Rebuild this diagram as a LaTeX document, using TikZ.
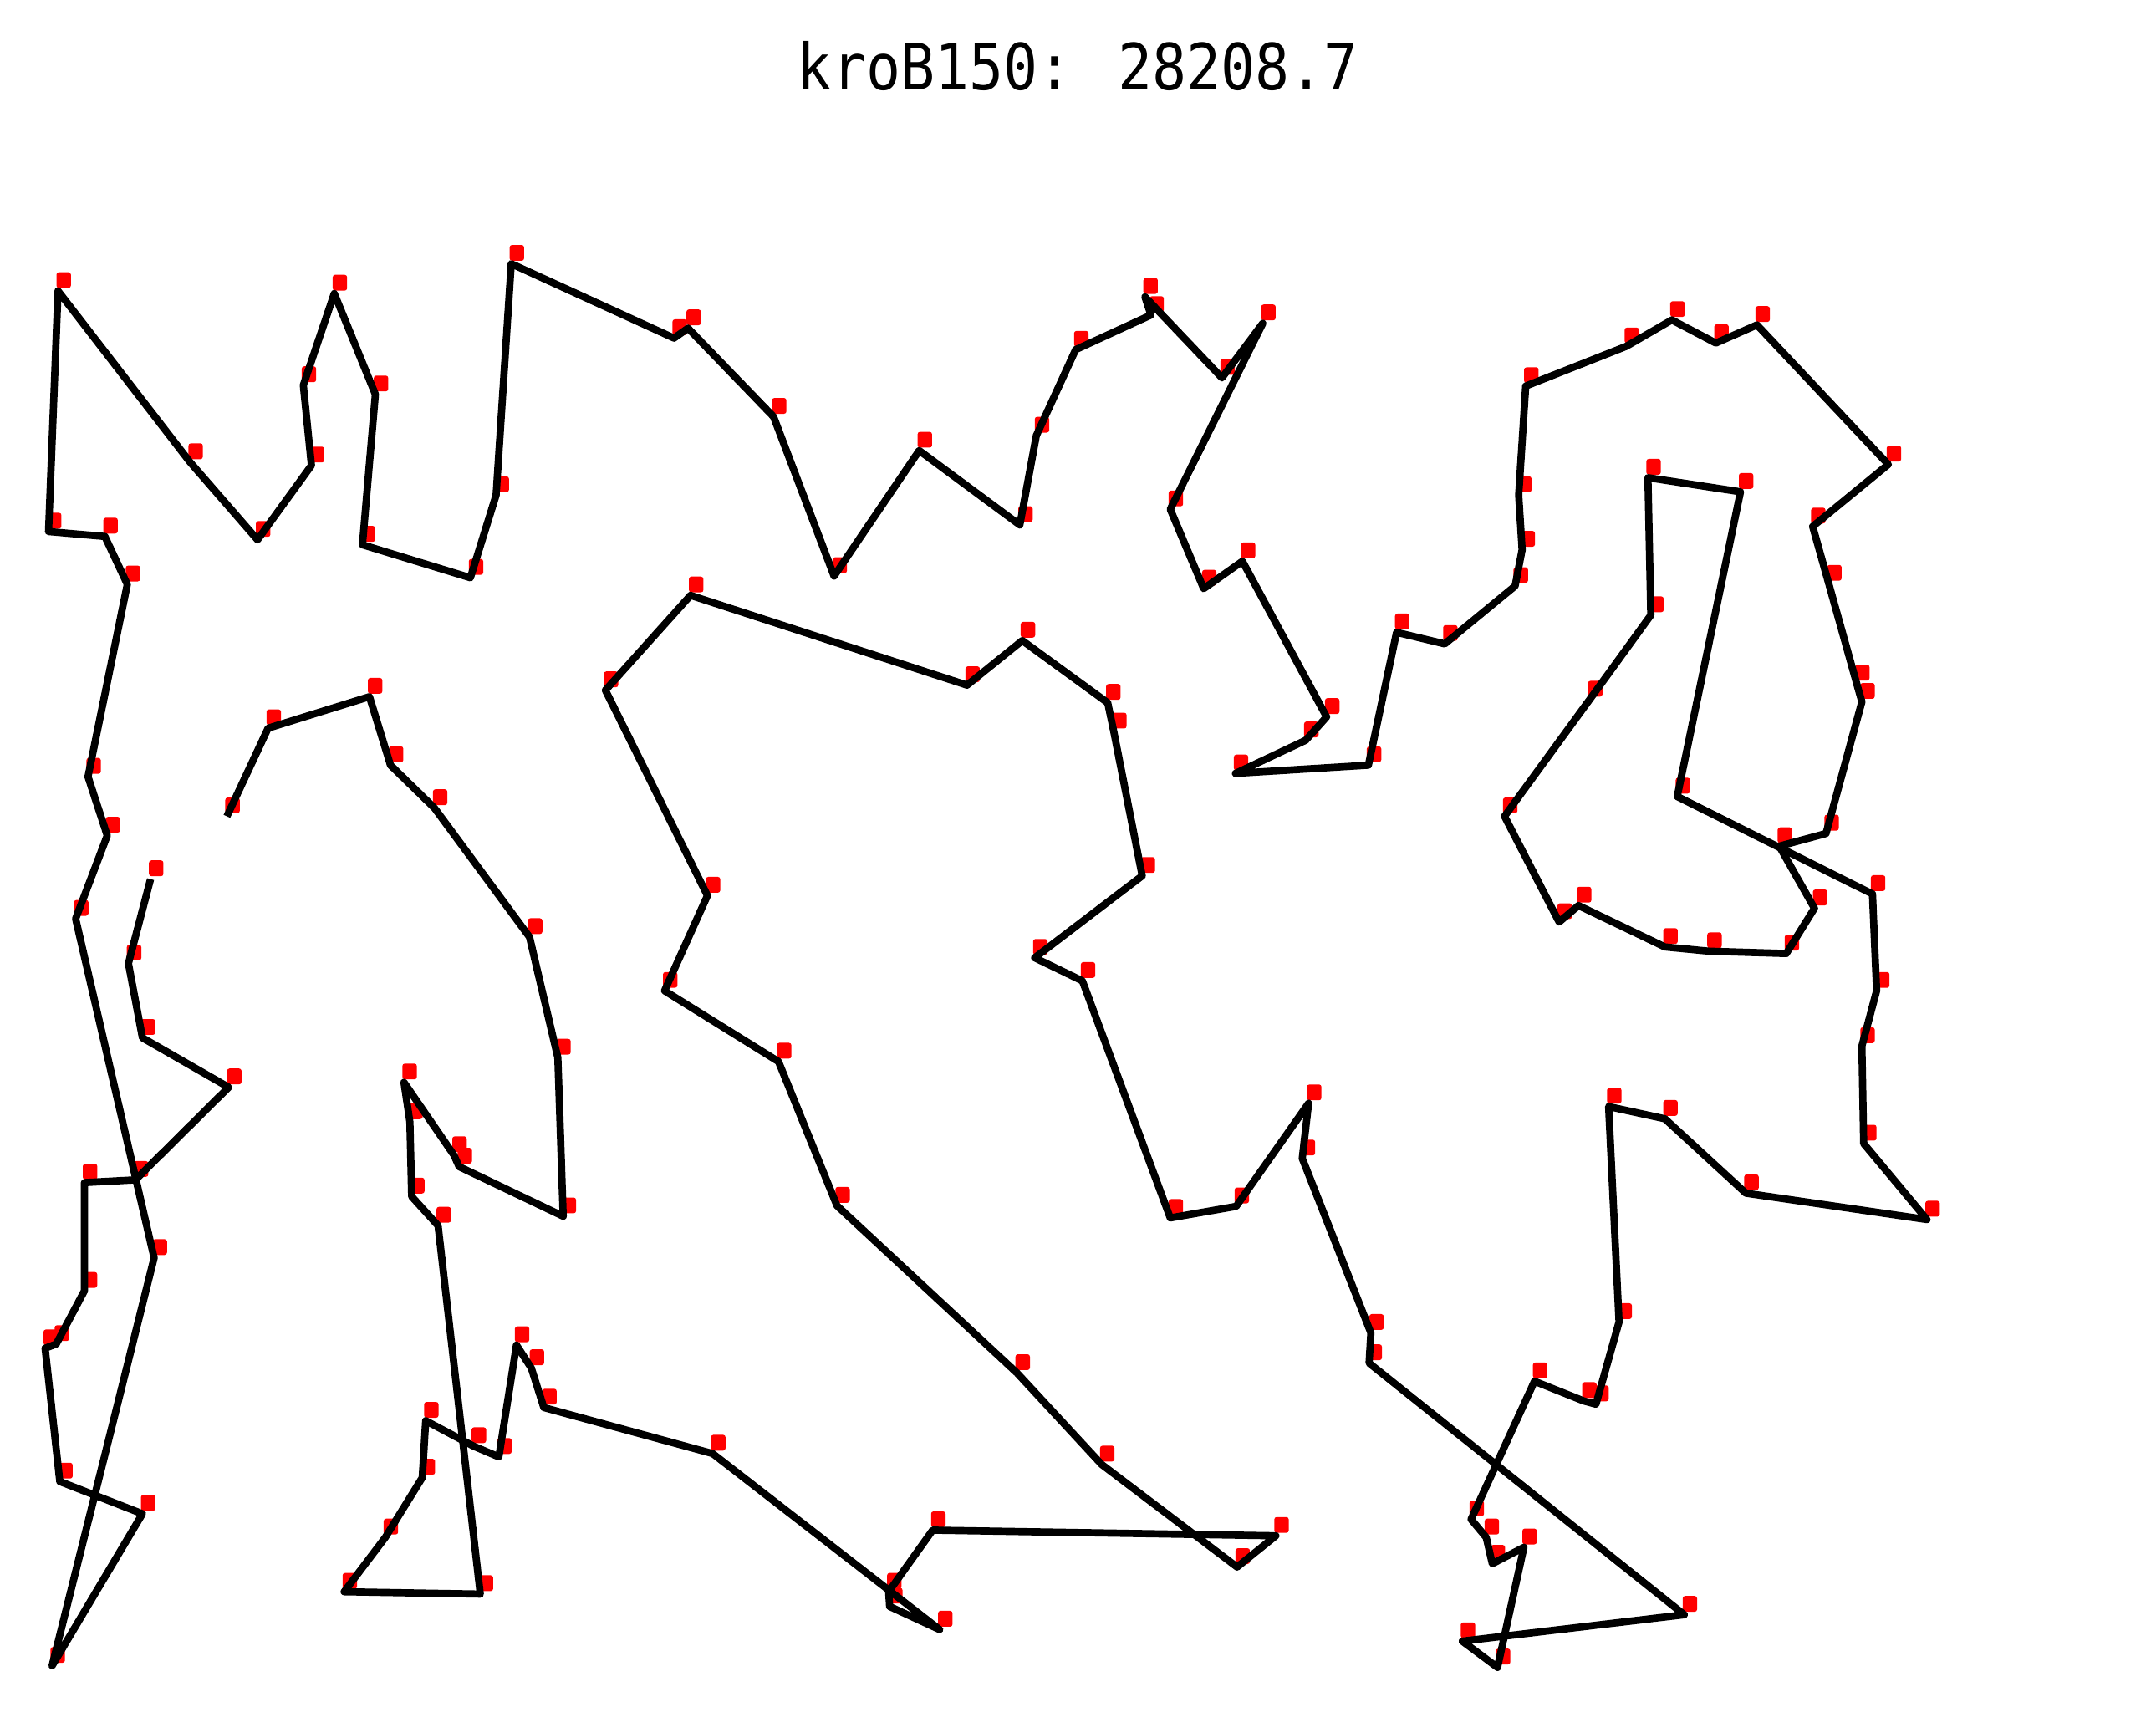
\documentclass[tikz,border=0pt]{standalone}
\usepackage{fontspec}
\newfontfamily\titlefont{DejaVu Sans Mono}
\definecolor{TourRed}{RGB}{255,0,0}

\begin{document}
\begin{tikzpicture}[x=0.01cm, y=-0.01cm,
    tour/.style={line width=1.5pt, line join=round},
    city/.style={rectangle, fill=TourRed, inner sep=0pt,
      minimum width=0.105cm, minimum height=0.115cm, rounded corners=0.5pt}]
  \useasboundingbox (0,0) rectangle (1568,1245);
  \node[font=\titlefont\fontsize{11.8}{14}\selectfont, yscale=1.12] (title) at (784,48) {kroB150: 28208.7};

  % cities, in tour order
  \foreach \n/\x/\y in {1/109.5/639.4, 2/93.4/700.7, 3/103.6/754.8, 4/166.3/790.8,
      5/98.5/858.1, 6/61.4/860.1, 7/61.4/938.8, 8/40.9/977.5, 9/32.8/980.6,
      10/43.5/1077.5, 11/103.6/1101.0, 12/37.9/1211.5, 13/112.1/914.9,
      14/55.0/668.2, 15/78.0/607.7, 16/64.0/564.9, 17/92.6/425.0, 18/76.3/390.2,
      19/35.3/386.6, 20/42.2/211.6, 21/138.2/336.1, 22/187.3/392.6,
      23/226.5/338.5, 24/220.6/280.1, 25/243.1/213.5, 26/273.0/286.8,
      27/263.6/396.2, 28/342.1/420.2, 29/360.8/360.1, 30/371.8/191.8,
      31/490.2/245.9, 32/500.4/238.7, 33/562.6/303.1, 34/606.6/419.0,
      35/668.5/327.7, 36/741.7/381.8, 37/753.7/316.8, 38/782.3/254.3,
      39/837.1/229.1, 40/832.7/215.9, 41/888.7/274.8, 42/918.4/235.1,
      43/851.1/370.4, 44/875.4/428.1, 45/903.6/408.2, 46/964.8/521.4,
      47/949.6/538.4, 48/898.5/562.5, 49/995.2/556.5, 50/1015.7/459.9,
      51/1050.7/468.3, 52/1101.9/426.2, 53/1107.0/399.8, 54/1104.5/360.1,
      55/1109.6/280.8, 56/1182.7/251.9, 57/1215.9/232.7, 58/1247.9/249.5,
      59/1277.8/236.3, 60/1373.3/337.8, 61/1318.3/382.9, 62/1330.0/424.5,
      63/1350.3/497.1, 64/1354.1/510.4, 65/1328.0/606.2, 66/1294.0/615.4,
      67/1319.6/660.6, 68/1299.1/693.5, 69/1242.8/691.8, 70/1210.8/688.7,
      71/1148.0/658.6, 72/1133.9/670.6, 73/1094.2/593.7, 74/1156.1/508.8,
      75/1200.6/447.4, 76/1198.5/347.4, 77/1265.8/357.7, 78/1219.8/579.3,
      79/1361.8/650.2, 80/1364.8/720.6, 81/1354.1/760.8, 82/1355.4/831.7,
      83/1401.4/887.0, 84/1269.7/867.8, 85/1210.8/813.7, 86/1169.9/804.8,
      87/1177.5/961.5, 88/1160.7/1021.3, 89/1151.8/1018.9, 90/1116.0/1004.6,
      91/1069.9/1105.0, 92/1080.9/1118.2, 93/1085.3/1137.3, 94/1108.3/1125.4,
      95/1089.1/1212.7, 96/1063.5/1193.6, 97/1224.9/1174.4, 98/995.7/991.4,
      99/997.0/969.4, 100/947.1/842.5, 101/951.7/802.4, 102/899.0/877.4,
      103/851.1/885.8, 104/787.2/713.4, 105/752.5/696.6, 106/830.7/637.0,
      107/810.0/532.0, 108/805.6/511.1, 109/743.5/465.9, 110/703.3/498.3,
      111/502.2/433.0, 112/440.3/502.0, 113/514.5/651.4, 114/483.3/720.6,
      115/566.2/772.1, 116/608.7/876.9, 117/739.7/998.6, 118/801.2/1065.1,
      119/899.7/1139.7, 120/927.9/1117.0, 121/678.3/1112.9, 122/646.3/1157.7,
      123/647.0/1168.4, 124/683.4/1185.2, 125/518.3/1057.2, 126/395.5/1023.7,
      127/386.4/995.0, 128/375.6/978.3, 129/362.8/1059.6, 130/344.2/1051.7,
      131/309.6/1033.3, 132/307.1/1074.7, 133/280.2/1118.2, 134/250.3/1157.7,
      135/349.3/1159.4, 136/318.6/891.4, 137/299.4/870.2, 138/298.1/816.1,
      139/293.8/787.2, 140/330.1/840.1, 141/333.9/848.5, 142/409.6/884.6,
      143/405.7/769.2, 144/385.1/681.5, 145/316.0/587.7, 146/284.0/556.5,
      147/268.7/506.7, 148/195.0/529.6, 149/165.0/593.7}
    \coordinate (c\n) at (\x,\y);

  \foreach \n in {1,...,149}
    \node[city] (m\n) at ([shift={(4.1,-7.9)}]c\n) {};

  \draw[tour] (c1) \foreach \n in {2,...,149} { -- (c\n) };
\end{tikzpicture}
\end{document}
